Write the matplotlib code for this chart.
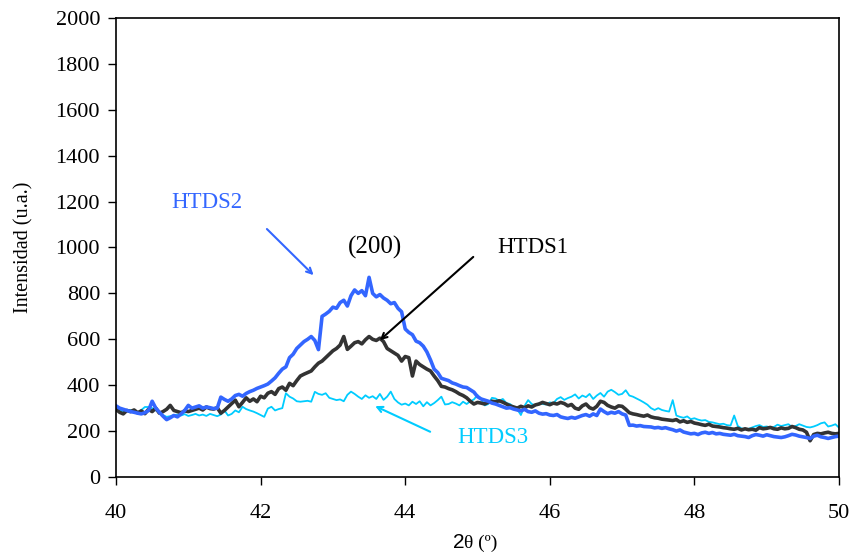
import matplotlib
matplotlib.use('Agg')
import matplotlib.pyplot as plt
import numpy as np

plt.rcParams['font.family'] = ['Liberation Serif', 'DejaVu Serif']

# 2theta sampled every 0.05 deg from 40 to 50
two_theta = np.linspace(40, 50, 201)

htds2 = [310, 300, 295, 290, 285, 282, 278, 275, 280, 290,
         330, 300, 282, 265, 250, 258, 268, 262, 275, 290,
         312, 300, 305, 310, 300, 305, 302, 298, 300, 348,
         338, 330, 340, 355, 360, 352, 364, 372, 378, 386,
         392, 398, 405, 418, 432, 452, 470, 480, 520, 535,
         560, 575, 590, 600, 612, 595, 555, 700, 710, 722,
         740, 735, 760, 770, 745, 790, 815, 800, 812, 790,
         870, 800, 785, 795, 780, 770, 755, 760, 735, 720,
         645, 630, 620, 592, 585, 570, 545, 510, 470, 455,
         430, 425, 420, 410, 405, 398, 392, 390, 380, 370,
         350, 340, 335, 330, 322, 318, 312, 306, 300, 302,
         296, 292, 288, 295, 285, 282, 288, 278, 274, 276,
         270, 268, 272, 262, 258, 255, 260, 256, 262, 268,
         272, 265, 275, 268, 296, 285, 276, 282, 278, 285,
         275, 270, 225, 226, 222, 224, 220, 219, 218, 214,
         216, 212, 215, 210, 206, 200, 205, 196, 192, 188,
         190, 185, 192, 195, 190, 194, 188, 190, 186, 184,
         182, 186, 180, 178, 176, 172, 180, 185, 182, 178,
         184, 180, 176, 174, 172, 175, 180, 186, 183, 178,
         175, 172, 168, 178, 182, 175, 172, 168, 172, 176,
         178]

htds1 = [295, 282, 275, 290, 285, 292, 280, 288, 276, 295,
         285, 300, 278, 285, 295, 312, 290, 285, 280, 288,
         285, 290, 295, 300, 292, 305, 298, 296, 302, 278,
         290, 305, 320, 335, 306, 325, 345, 330, 340, 328,
         352, 345, 365, 372, 360, 385, 392, 378, 408, 398,
         420, 440, 448, 455, 462, 480, 496, 505, 520, 535,
         550, 560, 575, 612, 556, 570, 585, 590, 580, 598,
         612, 600, 595, 605, 590, 560, 550, 540, 530, 505,
         525, 520, 440, 505, 490, 480, 470, 462, 440, 420,
         395, 392, 385, 380, 372, 362, 355, 345, 330, 318,
         325, 322, 318, 326, 330, 328, 332, 326, 318, 310,
         305, 300, 308, 302, 310, 305, 314, 318, 325, 320,
         315, 322, 318, 325, 320, 310, 316, 300, 295, 310,
         318, 302, 296, 308, 330, 325, 312, 305, 300, 310,
         308, 295, 280, 275, 272, 268, 265, 270, 262, 258,
         256, 252, 250, 248, 246, 250, 240, 245, 238, 242,
         235, 232, 228, 225, 230, 222, 220, 218, 215, 213,
         210, 208, 212, 205, 210, 206, 208, 204, 215, 210,
         212, 216, 210, 208, 214, 210, 212, 220, 215, 208,
         205, 195, 158, 185, 190, 188, 192, 195, 190, 188,
         190]

htds3 = [310, 295, 282, 290, 292, 285, 276, 292, 305, 305,
         300, 290, 285, 270, 262, 265, 270, 272, 268, 274,
         266, 270, 275, 268, 272, 266, 275, 270, 265, 272,
         290, 268, 275, 290, 282, 306, 296, 290, 285, 278,
         270, 262, 298, 306, 290, 296, 300, 365, 350, 342,
         330, 328, 330, 332, 328, 371, 362, 358, 365, 345,
         340, 335, 338, 330, 358, 372, 362, 350, 340, 356,
         345, 352, 340, 362, 336, 350, 372, 340, 325, 315,
         320, 312, 328, 318, 330, 308, 326, 312, 322, 335,
         350, 316, 318, 326, 320, 312, 328, 318, 330, 338,
         357, 340, 312, 318, 345, 342, 332, 340, 322, 318,
         305, 295, 270, 310, 335, 318, 312, 320, 318, 316,
         325, 322, 340, 348, 336, 344, 350, 360, 342, 355,
         348, 362, 340, 355, 366, 350, 372, 380, 370, 358,
         362, 378, 355, 350, 342, 334, 325, 315, 300, 292,
         300, 292, 288, 285, 335, 268, 262, 258, 264, 252,
         256, 250, 246, 248, 240, 238, 234, 230, 232, 226,
         224, 268, 222, 212, 208, 210, 216, 222, 226, 218,
         220, 216, 218, 228, 222, 226, 230, 218, 222, 230,
         224, 218, 216, 220, 226, 234, 238, 220, 224, 230,
         215]

c_black = '#333333'
c_blue = '#3366ff'
c_cyan = '#00ccff'

fig = plt.figure(figsize=(8.53, 5.54), dpi=100)
ax = fig.add_axes([0.136, 0.139, 0.8476, 0.8285])

ax.plot(two_theta, htds3, color=c_cyan, lw=1.3)
ax.plot(two_theta, htds1, color=c_black, lw=2.6)
ax.plot(two_theta, htds2, color=c_blue, lw=2.6)

ax.set_xlim(40, 50)
ax.set_ylim(0, 2000)
ax.set_xticks(np.arange(40, 51, 2))
ax.set_yticks(np.arange(0, 2001, 200))
ax.tick_params(direction='out', length=5.5, width=1, labelsize=16)
ax.tick_params(axis='y', pad=6)
ax.tick_params(axis='x', pad=14)
ax.tick_params(top=False, right=False)
for s in ax.spines.values():
    s.set_linewidth(1.2)

ax.set_ylabel('Intensidad (u.a.)', fontsize=14.5, labelpad=16)

# x label: "2" in sans, rest in serif
ax.text(0.4815, -0.155, '2', transform=ax.transAxes, ha='right', va='baseline',
        fontsize=15, family='Liberation Sans')
ax.text(0.4815, -0.155, 'θ (º)', transform=ax.transAxes, ha='left', va='baseline',
        fontsize=14)

ax.annotate('', xy=(42.76, 871), xytext=(42.06, 1089),
            arrowprops=dict(arrowstyle='->', color=c_blue, lw=1.5))
ax.text(41.26, 1198, 'HTDS2', color=c_blue, fontsize=16.5, ha='center', va='center')

ax.text(43.58, 1002, '(200)', color='black', fontsize=18, ha='center', va='center')

ax.annotate('', xy=(43.62, 588), xytext=(44.97, 967),
            arrowprops=dict(arrowstyle='->', color='black', lw=1.5))
ax.text(45.27, 1002, 'HTDS1', color='black', fontsize=16.5, ha='left', va='center')

ax.annotate('', xy=(43.55, 314), xytext=(44.38, 192),
            arrowprops=dict(arrowstyle='->', color=c_cyan, lw=1.5))
ax.text(45.21, 170, 'HTDS3', color=c_cyan, fontsize=16.5, ha='center', va='center')

fig.savefig('out.png', dpi=100)
